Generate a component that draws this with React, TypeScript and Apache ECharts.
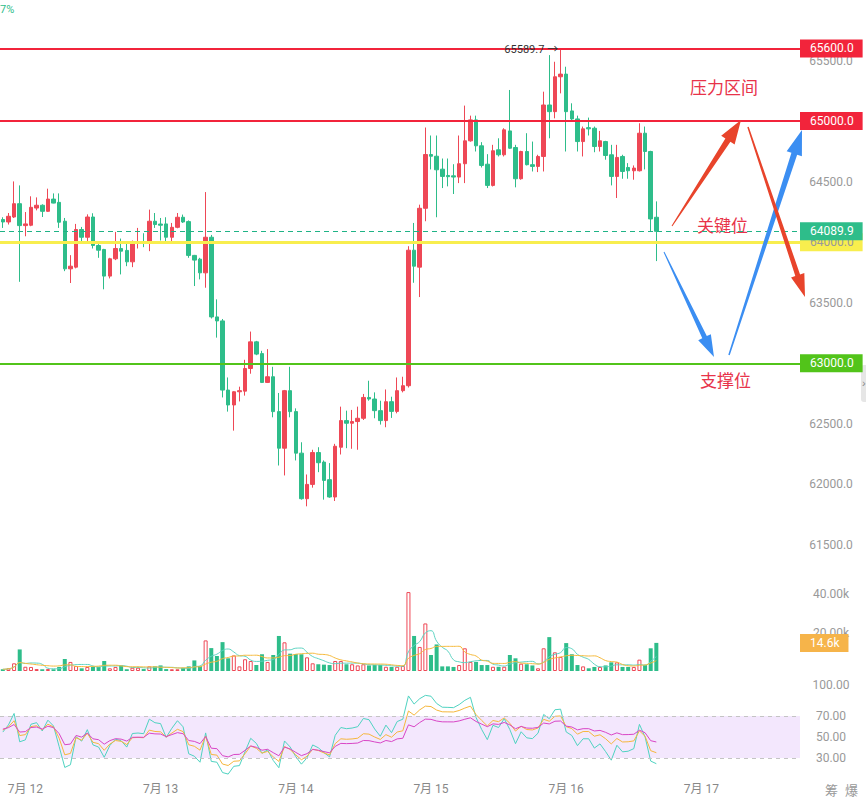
import React, { useEffect, useRef } from 'react';
import * as echarts from 'echarts';

// ---------- data (1h candles, 7/11 20:00 → 7/16 16:00) ----------
const START_DAY = 11;
const START_HOUR = 20;
const SLOT_COUNT = 142; // visible hourly slots incl. empty future space

const OPENS = [
  64187, 64167, 64208, 64318, 64137, 64140, 64282, 64305, 64255, 64356,
  64329, 64173, 63780, 63794, 64105, 64041, 64208, 63973, 63940, 63720,
  63863, 63948, 63932, 63838, 63990, 64000, 63994, 64173, 64150, 64151,
  64041, 64123, 64206, 64170, 63891, 63860, 63747, 64041, 63383, 63350,
  62779, 62656, 62765, 62770, 62957, 63177, 63080, 62842, 62889, 62601,
  62299, 62774, 62601, 62258, 61882, 62000, 62263, 62184, 62039, 61896,
  62307, 62527, 62505, 62519, 62546, 62718, 62705, 62609, 62527, 62683,
  62603, 62774, 62815, 63934, 63794, 64280, 64724, 64710, 64603, 64551,
  64548, 64538, 64648, 64837, 65010, 64796, 64644, 64469, 64763, 64722,
  64919, 64782, 64524, 64749, 64640, 64626, 64708, 65133, 65078, 65366,
  65388, 65084, 65018, 64831, 64946, 64941, 64790, 64831, 64722, 64543,
  64708, 64617, 64590, 64590, 64900, 64749, 64206,
];
const CLOSES = [
  64167, 64214, 64318, 64137, 64151, 64288, 64305, 64255, 64356, 64323,
  64165, 63780, 63802, 64105, 64041, 64208, 63973, 63934, 63720, 63863,
  63948, 63926, 63838, 63994, 64000, 63994, 64173, 64146, 64140, 64041,
  64123, 64206, 64167, 63891, 63852, 63747, 64041, 63383, 63350, 62779,
  62656, 62765, 62774, 62957, 63177, 63076, 62842, 62889, 62601, 62299,
  62774, 62601, 62258, 61882, 62000, 62263, 62179, 62033, 61896, 62315,
  62527, 62505, 62519, 62546, 62718, 62705, 62609, 62527, 62683, 62603,
  62774, 62815, 63934, 63802, 64280, 64724, 64710, 64598, 64543, 64541,
  64538, 64648, 64837, 65010, 64796, 64634, 64469, 64755, 64722, 64928,
  64776, 64524, 64749, 64640, 64626, 64708, 65133, 65078, 65366, 65388,
  65078, 65018, 64831, 64936, 64936, 64790, 64837, 64716, 64543, 64700,
  64584, 64590, 64612, 64900, 64749, 64192, 64089.9,
];
const LOWS = [
  64118, 64146, 64200, 63673, 64049, 64132, 64263, 64208, 64250, 64321,
  64118, 63761, 63663, 63784, 64008, 64008, 63948, 63871, 63611, 63701,
  63852, 63734, 63802, 63794, 63948, 63959, 63926, 64118, 64014, 63998,
  63994, 64115, 64159, 63871, 63638, 63693, 63624, 63370, 63212, 62718,
  62601, 62444, 62685, 62733, 62914, 63067, 62837, 62837, 62554, 62156,
  62074, 62554, 62198, 61874, 61819, 61973, 62101, 61874, 61890, 61863,
  62247, 62299, 62294, 62286, 62532, 62691, 62546, 62494, 62472, 62549,
  62587, 62760, 62800, 63665, 63547, 64173, 64601, 64206, 64447, 64461,
  64398, 64488, 64488, 64830, 64749, 64617, 64447, 64460, 64708, 64708,
  64771, 64453, 64516, 64634, 64584, 64579, 64584, 64858, 65023, 65229,
  64749, 64996, 64749, 64708, 64881, 64743, 64749, 64681, 64469, 64365,
  64524, 64524, 64516, 64584, 64601, 64085, 63844,
];
const HIGHS = [
  64206, 64241, 64502, 64469, 64249, 64379, 64370, 64313, 64442, 64403,
  64403, 64200, 63893, 64151, 64126, 64230, 64239, 63984, 63945, 63871,
  64085, 64030, 64008, 64014, 64118, 64074, 64269, 64241, 64200, 64206,
  64159, 64241, 64228, 64180, 63895, 63871, 64414, 64060, 63528, 63366,
  62883, 62770, 62807, 63029, 63262, 63185, 63103, 63117, 62971, 62755,
  62780, 62971, 62628, 62348, 62082, 62286, 62307, 62198, 62176, 62335,
  62642, 62609, 62615, 62642, 62747, 62856, 62760, 62691, 62784, 62724,
  62883, 62889, 63967, 64159, 64310, 64947, 64881, 64881, 64691, 64691,
  64644, 64881, 65128, 65045, 65045, 64826, 64727, 64804, 64858, 64941,
  65257, 64804, 64755, 64900, 64831, 64722, 65243, 65545, 65490, 65589.7,
  65449, 65147, 65045, 64955, 65029, 64955, 64919, 64837, 64804, 64804,
  64722, 64653, 64634, 64982, 64955, 64755, 64337,
];
const VOLUMES = [
  900, 1400, 4000, 11200, 2200, 2100, 1000, 900, 1000, 900,
  2100, 6200, 4700, 2600, 1400, 2100, 2200, 2100, 5200, 1400,
  2100, 2900, 900, 1700, 1700, 1000, 2400, 2400, 2900, 1000,
  900, 900, 1600, 2400, 5500, 2600, 15900, 11900, 7800, 15000,
  6600, 8100, 2400, 6100, 5200, 3100, 8700, 4700, 8300, 18200,
  14900, 9000, 8800, 8700, 7100, 4000, 3500, 3300, 3100, 5200,
  5200, 3500, 3500, 2900, 3500, 2900, 3100, 3100, 2200, 2100,
  2200, 2600, 41000, 18200, 12500, 24700, 8300, 13800, 2400, 2400,
  2100, 3100, 11800, 4700, 4700, 3100, 3100, 2200, 2200, 2200,
  8300, 6600, 3800, 3500, 2900, 1400, 11800, 17600, 9700, 7300,
  14500, 8700, 3100, 2400, 1400, 2100, 2100, 2900, 4500, 4500,
  2100, 2100, 2100, 5900, 3100, 11800, 14600,
];

const LEVELS_RESIST = [65600, 65000];
const LEVEL_KEY = 64000;
const LEVEL_SUPPORT = 63000;
const PRICE_TICKS = { min: 61000, max: 66000, step: 500 };
const RSI_LABELS = [100, 70, 50, 30];
const VOL_LABELS = [20000, 40000];
const RSI_PERIODS = [6, 12, 24];
const VOL_MA_PERIODS = [5, 10];

// ---------- derived ----------
const CATEGORIES: string[] = [];
for (let i = 0; i < SLOT_COUNT; i++) {
  const t = START_HOUR + i;
  const day = START_DAY + Math.floor(t / 24);
  const hour = t % 24;
  CATEGORIES.push(`07/${String(day).padStart(2, '0')} ${String(hour).padStart(2, '0')}:00`);
}

function rsiSeries(n: number) {
  let up = 35;
  let all = 60;
  const out: number[] = [];
  for (let i = 0; i < CLOSES.length; i++) {
    const prev = i === 0 ? OPENS[0] : CLOSES[i - 1];
    const d = CLOSES[i] - prev;
    up = (Math.max(d, 0) + (n - 1) * up) / n;
    all = (Math.abs(d) + (n - 1) * all) / n;
    out.push(+(up / all * 100).toFixed(2));
  }
  return out;
}
function maSeries(n: number) {
  return VOLUMES.map((_, i) => {
    const s = Math.max(0, i - n + 1);
    const arr = VOLUMES.slice(s, i + 1);
    return +(arr.reduce((a, b) => a + b, 0) / arr.length).toFixed(1);
  });
}

const RED = '#ee4856';
const GREEN = '#2ebd8a';
const LINE_RED = '#f2243b';
const YELLOW = '#f8ee4e';
const SUP_GREEN = '#52c41a';
const FONT = 'Roboto, "Noto Sans CJK SC", sans-serif';
const CJK = '"Noto Sans CJK SC", sans-serif';

function arrow(x1: number, y1: number, x2: number, y2: number, w0: number, w1: number, hl: number, hw: number) {
  const dx = x2 - x1, dy = y2 - y1;
  const L = Math.hypot(dx, dy);
  const ux = dx / L, uy = dy / L;
  const nx = -uy, ny = ux;
  const bx = x2 - ux * hl, by = y2 - uy * hl;
  return [
    [x1 + nx * w0 / 2, y1 + ny * w0 / 2],
    [bx + nx * w1 / 2, by + ny * w1 / 2],
    [bx + nx * hw / 2, by + ny * hw / 2],
    [x2, y2],
    [bx - nx * hw / 2, by - ny * hw / 2],
    [bx - nx * w1 / 2, by - ny * w1 / 2],
    [x1 - nx * w0 / 2, y1 - ny * w0 / 2],
  ];
}

function boxLabel(bg: string, color = '#fff', text?: string) {
  return {
    show: true,
    position: 'end',
    distance: 0,
    formatter: text ?? ((p: any) => Number(p.value).toFixed(1)),
    color,
    opacity: 1,
    backgroundColor: bg,
    padding: [3, 9, 3, 10],
    fontSize: 12,
    fontFamily: FONT,
  };
}

export default function App() {
  const ref = useRef<HTMLDivElement>(null);
  useEffect(() => {
    const chart = echarts.init(ref.current!, null, { renderer: 'svg' });
    const last = CLOSES.length - 1;
    const candleData = OPENS.map((o, i) => [o, CLOSES[i], LOWS[i], HIGHS[i]]);
    const volData = VOLUMES.map((v, i) => {
      const up = CLOSES[i] >= OPENS[i];
      return {
        value: v,
        itemStyle: up
          ? { color: '#fff', borderColor: RED, borderWidth: 1 }
          : { color: GREEN, borderColor: GREEN, borderWidth: 0 },
      };
    });
    let maxIdx = 0;
    HIGHS.forEach((h, i) => { if (h > HIGHS[maxIdx]) maxIdx = i; });

    const xAxisBase = (gi: number) => ({
      type: 'category',
      gridIndex: gi,
      data: CATEGORIES,
      boundaryGap: true,
      axisLine: { show: false },
      axisTick: { show: false },
      splitLine: { show: false },
      axisPointer: { show: false },
      axisLabel: gi === 2
        ? {
            show: true,
            interval: (idx: number, val: string) => val.endsWith(' 00:00'),
            formatter: (val: string) => `7月 ${parseInt(val.slice(3, 5), 10)}`,
            color: '#888',
            fontSize: 12,
            margin: -7,
            fontFamily: FONT,
          }
        : { show: false },
    });

    const rsiColors = ['#4fd3c1', '#f6b73c', '#d946c6'];
    const rsiSeriesList = RSI_PERIODS.map((n, k) => ({
      type: 'line',
      name: `RSI${n}`,
      xAxisIndex: 2,
      yAxisIndex: 2,
      data: rsiSeries(n),
      showSymbol: false,
      symbol: 'none',
      lineStyle: { width: 1, color: rsiColors[k] },
      z: 3 + k,
      ...(k === 0
        ? {
            markArea: {
              silent: true,
              itemStyle: { color: 'rgba(214,176,250,0.3)' },
              data: [[{ yAxis: 30 }, { yAxis: 70 }]],
            },
            markLine: {
              silent: true,
              symbol: ['none', 'none'],
              label: { show: false },
              lineStyle: { color: '#c4c4c4', type: [4, 4], width: 1 },
              data: [{ yAxis: 70 }, { yAxis: 30 }],
            },
          }
        : {}),
    }));

    const maColors = ['#5fd3c2', '#f5b93b'];
    const maSeriesList = VOL_MA_PERIODS.map((n, k) => ({
      type: 'line',
      name: `MA${n}`,
      xAxisIndex: 1,
      yAxisIndex: 1,
      data: maSeries(n),
      showSymbol: false,
      symbol: 'none',
      smooth: true,
      lineStyle: { width: 1, color: maColors[k] },
      z: 4,
    }));

    const option: any = {
      animation: false,
      backgroundColor: '#ffffff',
      textStyle: { fontFamily: FONT },
      grid: [
        { left: 0, width: 800, top: -2, height: 607.5 },
        { left: 0, width: 800, top: 555.5, height: 115.5 },
        { left: 0, width: 800, top: 684.5, height: 105 },
      ],
      xAxis: [xAxisBase(0), xAxisBase(1), xAxisBase(2)],
      yAxis: [
        {
          gridIndex: 0,
          position: 'right',
          min: PRICE_TICKS.min,
          max: PRICE_TICKS.max,
          interval: PRICE_TICKS.step,
          axisLine: { show: false },
          axisTick: { show: false },
          splitLine: { show: false },
          axisLabel: {
            color: '#999',
            fontSize: 12,
            margin: 31,
            align: 'center',
            showMinLabel: false,
            showMaxLabel: false,
            formatter: (v: number) => v.toFixed(1),
          },
        },
        {
          gridIndex: 1,
          position: 'right',
          min: 0,
          max: 60000,
          interval: 20000,
          axisLine: { show: false },
          axisTick: { show: false },
          splitLine: { show: false },
          axisLabel: {
            color: '#999',
            fontSize: 12,
            margin: 31,
            align: 'center',
            formatter: (v: number) => (VOL_LABELS.includes(v) ? (v / 1000).toFixed(2) + 'k' : ''),
          },
        },
        {
          gridIndex: 2,
          position: 'right',
          min: 0,
          max: 100,
          interval: 10,
          axisLine: { show: false },
          axisTick: { show: false },
          splitLine: { show: false },
          axisLabel: {
            color: '#999',
            fontSize: 12,
            margin: 31,
            align: 'center',
            formatter: (v: number) => (RSI_LABELS.includes(v) ? v.toFixed(2) : ''),
          },
        },
      ],
      series: [
        {
          type: 'candlestick',
          xAxisIndex: 0,
          yAxisIndex: 0,
          data: candleData,
          barWidth: 4,
          itemStyle: {
            color: RED,
            color0: GREEN,
            borderColor: RED,
            borderColor0: GREEN,
            borderWidth: 1,
          },
          markLine: {
            silent: true,
            symbol: ['none', 'none'],
            precision: 1,
            lineStyle: { color: GREEN, opacity: 1 },
            emphasis: { disabled: true },
            data: [
              { yAxis: LEVELS_RESIST[0], lineStyle: { color: LINE_RED, width: 2, type: 'solid' }, label: boxLabel(LINE_RED) },
              { yAxis: LEVELS_RESIST[1], lineStyle: { color: LINE_RED, width: 2, type: 'solid' }, label: boxLabel(LINE_RED) },
              { yAxis: LEVEL_SUPPORT, lineStyle: { color: SUP_GREEN, width: 2, type: 'solid' }, label: boxLabel(SUP_GREEN) },
              { yAxis: LEVEL_KEY, lineStyle: { color: YELLOW, width: 3, type: 'solid' }, label: boxLabel(YELLOW, '#999') },
              { yAxis: CLOSES[last], lineStyle: { color: '#1fb386', opacity: 1, width: 1.2, type: [5, 4] }, label: boxLabel(GREEN) },
            ],
          },
          markPoint: {
            silent: true,
            symbol: 'circle',
            symbolSize: 1,
            itemStyle: { color: 'rgba(0,0,0,0)' },
            data: [
              {
                coord: [CATEGORIES[maxIdx], HIGHS[maxIdx]],
                label: {
                  show: true,
                  position: 'left',
                  distance: 2,
                  formatter: `${HIGHS[maxIdx].toFixed(1)} →`,
                  color: '#333',
                  fontSize: 11,
                  fontFamily: FONT,
                },
              },
            ],
          },
        },
        {
          type: 'bar',
          xAxisIndex: 1,
          yAxisIndex: 1,
          data: volData,
          barWidth: 4,
          markLine: {
            silent: true,
            symbol: ['none', 'none'],
            lineStyle: { color: 'rgba(0,0,0,0)', width: 1 },
            data: [
              {
                yAxis: VOLUMES[last],
                label: boxLabel('#f6b44a', '#fff', (VOLUMES[last] / 1000).toFixed(1) + 'k'),
              },
            ],
          },
        },
        ...maSeriesList,
        ...rsiSeriesList,
      ],
      graphic: {
        elements: [
          { type: 'text', x: 0, y: 9, style: { text: '7%', fill: '#2ebd8a', fontSize: 11, fontFamily: FONT, verticalAlign: 'middle' } },
          { type: 'text', x: 690, y: 86, style: { text: '压力区间', fill: '#e8334a', fontSize: 17, fontFamily: CJK, verticalAlign: 'middle' } },
          { type: 'text', x: 697, y: 224, style: { text: '关键位', fill: '#e8334a', fontSize: 17, fontFamily: CJK, verticalAlign: 'middle' } },
          { type: 'text', x: 700, y: 379, style: { text: '支撑位', fill: '#e8334a', fontSize: 17, fontFamily: CJK, verticalAlign: 'middle' } },
          { type: 'polygon', shape: { points: arrow(664, 252, 714, 357, 1, 5, 22, 14) }, style: { fill: '#3b8ef2' }, z: 10 },
          { type: 'polygon', shape: { points: arrow(729, 355, 802, 130, 1.5, 6, 25, 16) }, style: { fill: '#3b8ef2' }, z: 10 },
          { type: 'polygon', shape: { points: arrow(672, 226, 741, 120, 1, 6, 24, 16) }, style: { fill: '#e8442b' }, z: 11 },
          { type: 'polygon', shape: { points: arrow(748, 127, 805, 297, 1.5, 5, 23, 14) }, style: { fill: '#e8442b' }, z: 11 },
          { type: 'rect', shape: { x: 861, y: 365, width: 8, height: 37, r: 3 }, style: { fill: '#e6e6e6' } },
          { type: 'text', x: 862, y: 383, style: { text: '›', fill: '#888', fontSize: 11, verticalAlign: 'middle' } },
          { type: 'text', x: 825, y: 789, style: { text: '筹', fill: '#999', fontSize: 13, fontFamily: CJK, verticalAlign: 'middle' } },
          { type: 'text', x: 845, y: 789, style: { text: '爆', fill: '#999', fontSize: 13, fontFamily: CJK, verticalAlign: 'middle' } },
        ],
      },
    };
    chart.setOption(option);
    return () => chart.dispose();
  }, []);
  return (
    <div
      ref={ref}
      style={{ position: 'fixed', left: 0, top: 0, width: 866, height: 806, background: '#fff' }}
    />
  );
}
